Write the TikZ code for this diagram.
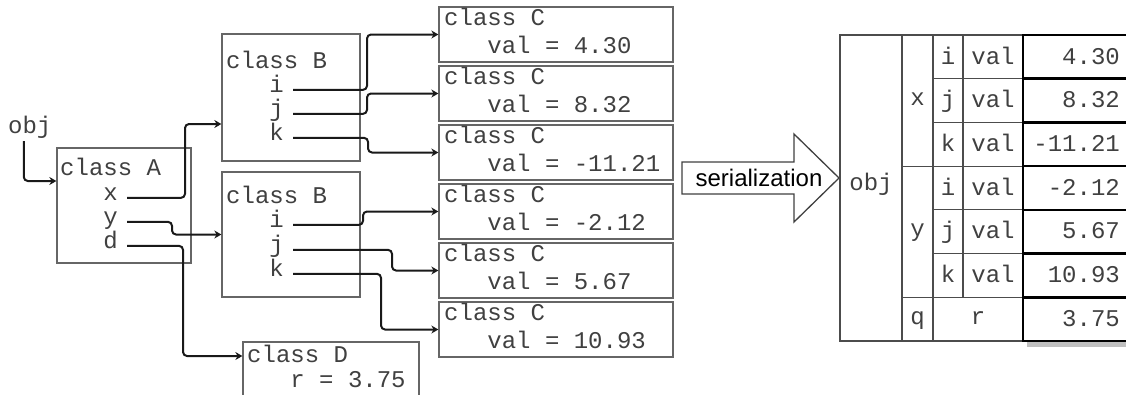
\documentclass[tikz,border=0pt]{standalone}
\usepackage{fontspec}
\setmonofont{Liberation Mono}
\setsansfont{Liberation Sans}
\usetikzlibrary{arrows.meta}

\begin{document}
\begin{tikzpicture}[
    x=1pt, y=-1pt,
    box/.style={draw=black!60, line width=1.3pt, inner sep=0},
    txt/.style={font=\ttfamily\fontsize{24}{26}\selectfont, text=black!75, inner sep=0, anchor=base west},
    cell/.style={txt, anchor=base},
    grid/.style={draw=black!70, line width=1.1pt},
    valbox/.style={draw=black, line width=2.6pt},
    link/.style={line width=2pt, black!90, rounded corners=4pt, shorten <=9pt, -{Stealth[length=7pt,width=8pt]}}
]
  \useasboundingbox (0,0) rectangle (1126,394);
  \clip (0,0) rectangle (1126,394);

  % objects
  \node[txt] (obj) at (8,133) {obj};
  \node[box, minimum width=134pt, minimum height=115pt] (A) at (124,205.5) {};
  \node[txt] (At) at (60,175) {class A};
  \node[txt] (Ax) at (60,200) {\phantom{cla}x};
  \node[txt] (Ay) at (60,224) {\phantom{cla}y};
  \node[txt] (Ad) at (60,248) {\phantom{cla}d};

  \node[box, minimum width=138pt, minimum height=127pt] (B1) at (291,97.5) {};
  \node[txt] (B1t) at (226,68) {class B};
  \node[txt] (B1i) at (226,92) {\phantom{cla}i};
  \node[txt] (B1j) at (226,116) {\phantom{cla}j};
  \node[txt] (B1k) at (226,140) {\phantom{cla}k};

  \node[box, minimum width=138pt, minimum height=125pt] (B2) at (291,234.5) {};
  \node[txt] (B2t) at (226,203) {class B};
  \node[txt] (B2i) at (226,227) {\phantom{cla}i};
  \node[txt] (B2j) at (226,252) {\phantom{cla}j};
  \node[txt] (B2k) at (226,276) {\phantom{cla}k};

  \foreach \v [count=\n] in {4.30, 8.32, -11.21, -2.12, 5.67, 10.93} {
    \node[box, minimum width=234pt, minimum height=55pt] (C\n) at (556,{34.5+59*(\n-1)}) {};
    \node[txt] (C\n t) at (444,{25+59*(\n-1)}) {class C};
    \node[txt] (C\n v) at (444,{53+59*(\n-1)}) {\phantom{cla}val = \v};
  }

  \node[box, minimum width=176pt, minimum height=64pt] (D) at (331,374) {};
  \node[txt] (Dt) at (247,362) {class D};
  \node[txt] (Dr) at (247,387) {\phantom{cla}r = 3.75};

  % references
  \draw[link, shorten <=3pt] ([xshift=-6pt]obj.south) |- ([yshift=24.5pt]A.west);
  \draw[link] (Ax.mid east) -- ++(67,0) |- ([yshift=-26.5pt]B1.west);
  \draw[link] (Ay.mid east) -- ++(54,0) |- (B2.west);
  \draw[link] (Ad.mid east) -- ++(65,0) |- ([yshift=18pt]D.west);
  \draw[link] (B1i.mid east) -- ++(83,0) |- (C1.west);
  \draw[link] (B1j.mid east) -- ++(83,0) |- (C2.west);
  \draw[link] (B1k.mid east) -- ++(84,0) |- (C3.west);
  \draw[link] (B2i.mid east) -- ++(79,0) |- (C4.west);
  \draw[link] (B2j.mid east) -- ++(108,0) |- (C5.west);
  \draw[link] (B2k.mid east) -- ++(97,0) |- (C6.west);

  % serialization arrow
  \draw[draw=black!75, line width=1.3pt, fill=white]
    (682,162) -- (794,162) -- (794,134) -- (839,178) -- (794,222) -- (794,194) -- (682,194) -- cycle;
  \node[font=\sffamily\fontsize{24}{26}\selectfont, inner sep=0] (ser) at (759,178) {serialization};

  % serialized table
  \fill[black!25] (1027,341) rectangle (1127,347);
  \draw[grid] (840,35) rectangle (1023,341);
  \draw[grid] (902,35) -- (902,341) (933,35) -- (933,341) (963,35) -- (963,297.3);
  \draw[grid] (902,166.1) -- (1023,166.1) (902,297.3) -- (1023,297.3);
  \foreach \r in {78.7,122.4,209.9,253.6}
    \draw[grid] (933,\r) -- (1023,\r);
  \node[cell] (tobj) at (871,190) {obj};
  \node[cell] (tx) at (917.5,105.6) {x};
  \node[cell] (ty) at (917.5,236.7) {y};
  \node[cell] (tq) at (917.5,324) {q};
  \node[cell] (tr) at (978,324) {r};
  \foreach \f [count=\n from 0] in {i, j, k, i, j, k} {
    \node[cell] (f\n) at (948,{64+43.71*\n}) {\f};
    \node[cell] (val\n) at (993,{64+43.71*\n}) {val};
  }
  \foreach \v [count=\n from 0] in {4.30, 8.32, -11.21, -2.12, 5.67, 10.93, 3.75} {
    \draw[valbox] (1023,{35+43.71*\n}) rectangle (1127,{35+43.71*(\n+1)});
    \node[txt, anchor=base east] (v\n) at (1120,{64+43.71*\n}) {\v};
  }
\end{tikzpicture}
\end{document}
